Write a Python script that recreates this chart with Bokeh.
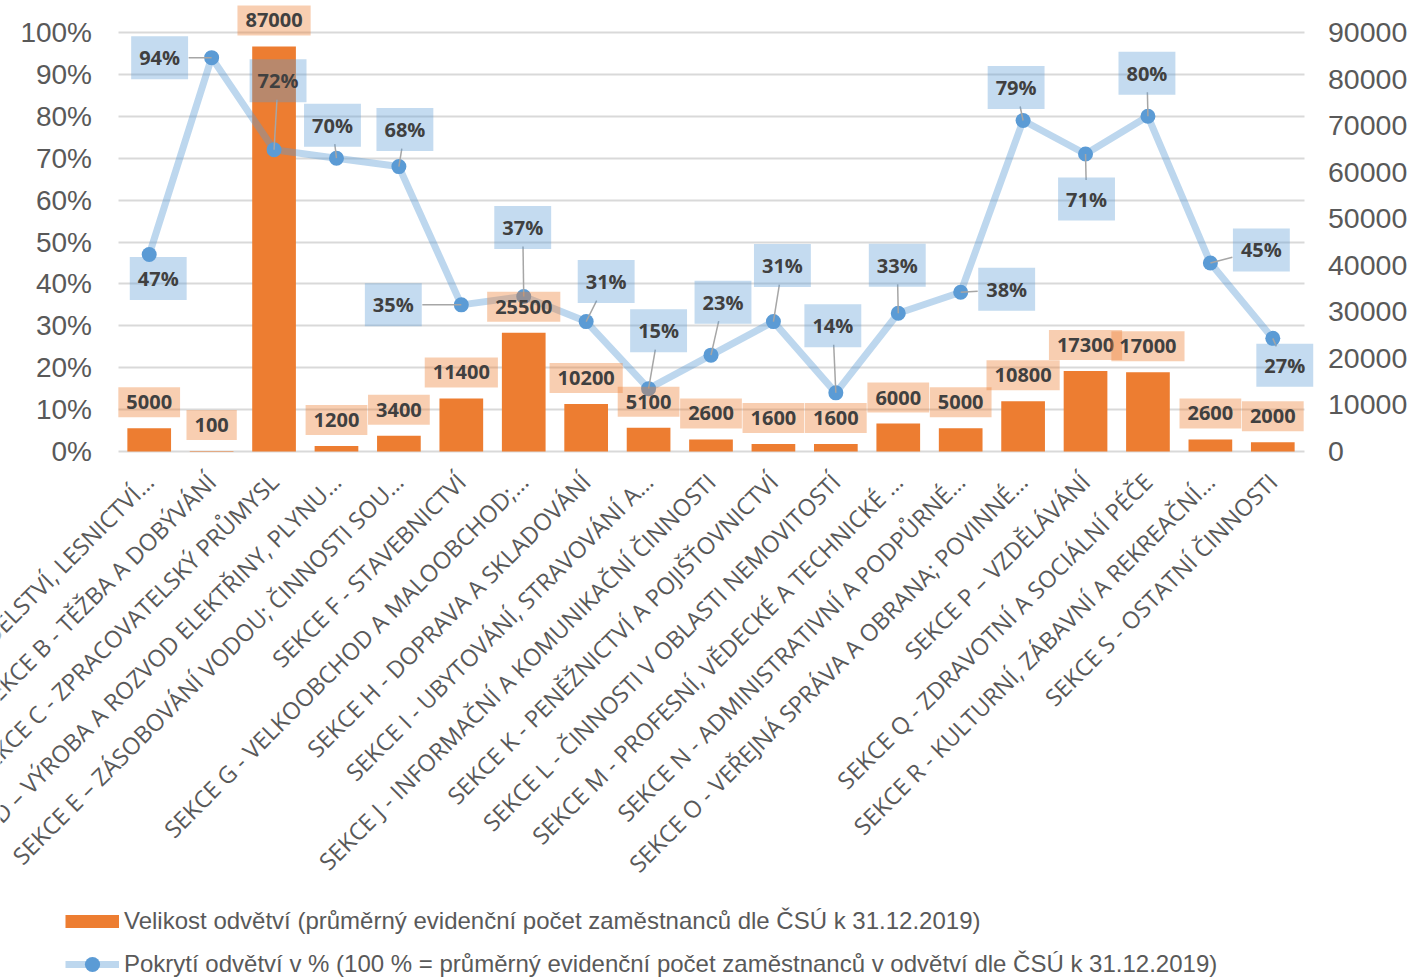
import math
from bokeh.plotting import figure
from bokeh.models import (FactorRange, Range1d, LinearAxis, FixedTicker, PrintfTickFormatter,
                          ColumnDataSource, Legend, LegendItem, Grid)
from bokeh.core.properties import value
from bokeh.embed import file_html
from bokeh.resources import INLINE

# ---------------- data ----------------
categories = [
    "SEKCE A - ZEMĚDĚLSTVÍ, LESNICTVÍ…",
    "SEKCE B - TĚŽBA A DOBÝVÁNÍ",
    "SEKCE C - ZPRACOVATELSKÝ PRŮMYSL",
    "SEKCE D – VÝROBA A ROZVOD ELEKTŘINY, PLYNU…",
    "SEKCE E – ZÁSOBOVÁNÍ VODOU; ČINNOSTI SOU…",
    "SEKCE F - STAVEBNICTVÍ",
    "SEKCE G - VELKOOBCHOD A MALOOBCHOD;…",
    "SEKCE H - DOPRAVA A SKLADOVÁNÍ",
    "SEKCE I - UBYTOVÁNÍ, STRAVOVÁNÍ A…",
    "SEKCE J - INFORMAČNÍ A KOMUNIKAČNÍ ČINNOSTI",
    "SEKCE K - PENĚŽNICTVÍ A POJIŠŤOVNICTVÍ",
    "SEKCE L - ČINNOSTI V OBLASTI NEMOVITOSTÍ",
    "SEKCE M - PROFESNÍ, VĚDECKÉ A TECHNICKÉ …",
    "SEKCE N - ADMINISTRATIVNÍ A PODPŮRNÉ…",
    "SEKCE O - VEŘEJNÁ SPRÁVA A OBRANA; POVINNÉ…",
    "SEKCE P – VZDĚLÁVÁNÍ",
    "SEKCE Q - ZDRAVOTNÍ A SOCIÁLNÍ PÉČE",
    "SEKCE R - KULTURNÍ, ZÁBAVNÍ A REKREAČNÍ…",
    "SEKCE S - OSTATNÍ ČINNOSTI",
]
employees = [5000, 100, 87000, 1200, 3400, 11400, 25500, 10200, 5100, 2600,
             1600, 1600, 6000, 5000, 10800, 17300, 17000, 2600, 2000]
coverage = [47, 94, 72, 70, 68, 35, 37, 31, 15, 23, 31, 14, 33, 38, 79, 71, 80, 45, 27]

pct_ticks = [0, 10, 20, 30, 40, 50, 60, 70, 80, 90, 100]
emp_ticks = [0, 10000, 20000, 30000, 40000, 50000, 60000, 70000, 80000, 90000]
PCT_MAX, EMP_MAX = 100, 90000

bar_series = "Velikost odvětví (průměrný evidenční počet zaměstnanců dle ČSÚ k 31.12.2019)"
line_series = "Pokrytí odvětví v % (100 % = průměrný evidenční počet zaměstnanců v odvětví dle ČSÚ k 31.12.2019)"

# --------------- layout / style ---------------
pct_dx = [9, -52, 4, -4, 6, -68, -1, 20, 10, 12, 9, -3, -1, 46, -7, 1, -1, 51, 12]
pct_dy = [-24, 0, 69, 33, 37, 0, 69, 40, 58, 53, 56, 67, 48, 3, 33, -45, 43, 13, -27]  # px, up positive

W, H = 1421, 977
PLOT_W = 1186               # width of the category band in px
TOP_PX, ZERO_PX = 32, 451   # canvas y of the 100 % line and of the 0 line
n = len(categories)
OFF = 1                     # one blank spacer factor on each side
factors = [" "] + categories + ["  "]
px_cat = PLOT_W / n
px_pct = (ZERO_PX - TOP_PX) / PCT_MAX
pad = (W / px_cat - len(factors)) / 2.0
y_top = PCT_MAX + TOP_PX / px_pct
y_bot = -(H - ZERO_PX) / px_pct
emp_scale = EMP_MAX / PCT_MAX

ORANGE = "#ED7D31"
BLUE = "#5B9BD5"
GRID = "#D9D9D9"
AXTXT = "#595959"

p = figure(width=W, height=H,
           x_range=FactorRange(factors=factors, range_padding=pad, range_padding_units="absolute"),
           y_range=Range1d(y_bot, y_top), output_backend="svg", toolbar_location=None,
           min_border=0)
p.extra_y_ranges = {"emp": Range1d(y_bot * emp_scale, y_top * emp_scale)}
p.outline_line_color = None
p.background_fill_color = "white"
p.xgrid.visible = False
p.ygrid.ticker = FixedTicker(ticks=pct_ticks)
p.ygrid.grid_line_color = GRID
p.ygrid.grid_line_width = 2
use_grid_bounds = "cross_bounds" in Grid.properties()
if use_grid_bounds:
    p.ygrid.cross_bounds = (OFF, OFF + n)
else:
    p.ygrid.visible = False
    p.segment(x0=[OFF] * len(pct_ticks), x1=[OFF + n] * len(pct_ticks), y0=pct_ticks,
              y1=pct_ticks, line_color=GRID, line_width=2)

# left axis
ya = p.yaxis[0]
ya.fixed_location = OFF
ya.ticker = FixedTicker(ticks=pct_ticks)
ya.formatter = PrintfTickFormatter(format="%d%%")
ya.axis_line_color = None
ya.major_tick_line_color = None
ya.minor_tick_line_color = None
ya.major_label_standoff = 20
ya.major_label_text_font = "Liberation Sans"
ya.major_label_text_font_size = "28px"
ya.major_label_text_color = AXTXT

# right axis
ra = LinearAxis(y_range_name="emp", ticker=FixedTicker(ticks=emp_ticks), fixed_location=OFF + n)
ra.axis_line_color = None
ra.major_tick_line_color = None
ra.minor_tick_line_color = None
ra.major_label_standoff = 18
ra.major_label_text_font = "Liberation Sans"
ra.major_label_text_font_size = "28.5px"
ra.major_label_text_color = AXTXT
p.add_layout(ra, "right")

# bottom axis
xa = p.xaxis[0]
xa.fixed_location = 0
xa.major_label_orientation = math.pi / 4
xa.axis_line_color = None
xa.major_tick_line_color = None
xa.minor_tick_line_color = None
xa.major_label_standoff = 20
xa.major_label_text_font = "Open Sans"
xa.major_label_text_font_size = "23.5px"
xa.major_label_text_color = AXTXT

src = ColumnDataSource(dict(cat=categories, emp=employees, cov=coverage,
                            emp_txt=[str(v) for v in employees],
                            cov_txt=[f"{v}%" for v in coverage],
                            dx=pct_dx, dy=[-d for d in pct_dy]))

bars = p.vbar(x="cat", top="emp", bottom=0, width=0.7, y_range_name="emp", source=src,
              fill_color=ORANGE, line_color=None)
line = p.line(x="cat", y="cov", source=src, line_color=BLUE, line_alpha=0.4, line_width=7,
              line_join="round")
dots = p.scatter(x="cat", y="cov", source=src, size=15, fill_color=BLUE, line_color=None)

# leader lines (from point to the edge of the label box)
hw, hh = 29, 19
lx0, ly0, lx1, ly1 = [], [], [], []
for i, (v, dx, dy) in enumerate(zip(coverage, pct_dx, pct_dy)):
    s = min(hw / abs(dx) if dx else 1e9, hh / abs(dy) if dy else 1e9)
    if s >= 1:
        continue
    ex, ey = dx * (1 - s), dy * (1 - s)
    if math.hypot(ex, ey) < 6:
        continue
    lx0.append(OFF + i + 0.5)
    ly0.append(v)
    lx1.append(OFF + i + 0.5 + ex / px_cat)
    ly1.append(v + ey / px_pct)
p.segment(x0=lx0, y0=ly0, x1=lx1, y1=ly1, line_color="#A6A6A6", line_width=1.5)

# bar labels
p.text(x="cat", y="emp", text="emp_txt", source=src, y_range_name="emp",
       y_offset=-26, text_align="center", text_baseline="middle",
       text_font=value("Open Sans"), text_font_style="bold", text_font_size="20px",
       text_color="#404040", background_fill_color=ORANGE, background_fill_alpha=0.38,
       padding=8)

# percentage labels
p.text(x="cat", y="cov", text="cov_txt", source=src, x_offset="dx", y_offset="dy",
       text_align="center", text_baseline="middle",
       text_font=value("Open Sans"), text_font_style="bold", text_font_size="20px",
       text_color="#404040", background_fill_color=BLUE, background_fill_alpha=0.36,
       padding=8)

# legend (bar swatch drawn by a thick one-point proxy line, which itself draws nothing)
proxy = p.line(x=categories[:1], y=coverage[:1], line_color=ORANGE, line_width=13)
legend = Legend(items=[LegendItem(label=bar_series, renderers=[proxy]),
                       LegendItem(label=line_series, renderers=[line, dots])],
                location=(65, -6), orientation="vertical",
                glyph_width=54, glyph_height=38, label_height=38, spacing=5,
                label_standoff=5, padding=0, margin=0,
                label_text_font="Liberation Sans", label_text_font_size="24px",
                label_text_color=AXTXT, border_line_color=None, background_fill_alpha=0)
p.add_layout(legend, "center")

open("out.html", "w").write(file_html(p, INLINE))
